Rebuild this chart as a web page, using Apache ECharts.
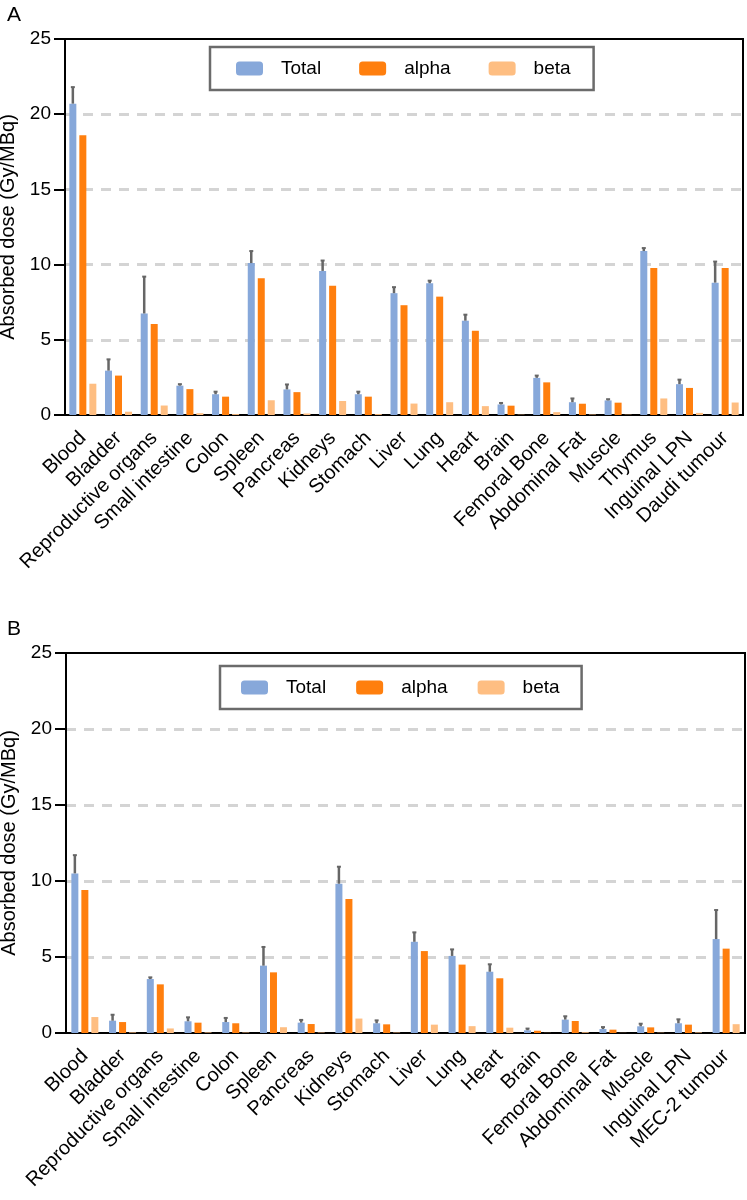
<!DOCTYPE html>
<html><head><meta charset="utf-8">
<script src="https://cdn.jsdelivr.net/npm/echarts@6/dist/echarts.min.js"></script>
<style>html,body{margin:0;padding:0;background:#fff}#c{width:747px;height:1200px}</style>
</head><body><div id="c"></div>
<script>
const catsA = ['Blood','Bladder','Reproductive organs','Small intestine','Colon','Spleen','Pancreas','Kidneys','Stomach','Liver','Lung','Heart','Brain','Femoral Bone','Abdominal Fat','Muscle','Thymus','Inguinal LPN','Daudi tumour'];
const totalA = [20.7, 2.95, 6.75, 1.95, 1.38, 10.1, 1.7, 9.58, 1.38, 8.1, 8.76, 6.27, 0.7, 2.47, 0.85, 0.97, 10.9, 2.05, 8.8];
const errTopA = [21.8, 3.7, 9.2, 2.05, 1.55, 10.9, 2.03, 10.27, 1.55, 8.5, 8.93, 6.67, 0.8, 2.62, 1.1, 1.05, 11.1, 2.35, 10.2];
const alphaA = [18.6, 2.62, 6.05, 1.72, 1.22, 9.1, 1.52, 8.6, 1.22, 7.3, 7.87, 5.6, 0.62, 2.17, 0.75, 0.82, 9.78, 1.8, 9.78];
const betaA = [2.08, 0.22, 0.63, 0.12, 0.06, 0.98, 0.1, 0.93, 0.06, 0.76, 0.85, 0.59, 0.02, 0.19, 0.03, 0.02, 1.1, 0.14, 0.83];

const catsB = ['Blood','Bladder','Reproductive organs','Small intestine','Colon','Spleen','Pancreas','Kidneys','Stomach','Liver','Lung','Heart','Brain','Femoral Bone','Abdominal Fat','Muscle','Inguinal LPN','MEC-2 tumour'];
const totalB = [10.5, 0.81, 3.55, 0.77, 0.72, 4.43, 0.68, 9.82, 0.64, 6.0, 5.07, 4.03, 0.18, 0.88, 0.26, 0.44, 0.64, 6.18];
const errTopB = [11.7, 1.2, 3.66, 1.03, 0.99, 5.66, 0.86, 10.94, 0.83, 6.62, 5.5, 4.52, 0.29, 1.1, 0.39, 0.61, 0.9, 8.09];
const alphaB = [9.4, 0.72, 3.2, 0.68, 0.64, 3.99, 0.59, 8.82, 0.57, 5.39, 4.5, 3.6, 0.15, 0.79, 0.22, 0.37, 0.55, 5.55];
const betaB = [1.05, 0.04, 0.3, 0.04, 0.03, 0.38, 0.03, 0.95, 0.03, 0.55, 0.45, 0.35, 0.01, 0.05, 0.01, 0.02, 0.04, 0.58];

const yTicks = [0, 5, 10, 15, 20, 25];
const seriesNames = ['Total', 'alpha', 'beta'];
const colors = ['#87a8da', '#ff7f0e', '#febe82'];

const FONT = 'Liberation Sans, Arial, sans-serif';
const BAR_W = 7, BAR_GAP_PX = 3;

function xAxisFor(cats, gi) {
  return {
    type: 'category', gridIndex: gi, data: cats,
    axisLine: {lineStyle: {color: '#000', width: 2}},
    axisTick: {alignWithLabel: true, length: 10, lineStyle: {color: '#000', width: 2}},
    axisLabel: {rotate: 45, margin: 20, fontSize: 20, color: '#000', fontFamily: FONT, interval: 0}
  };
}
function yAxisFor(gi) {
  return {
    type: 'value', gridIndex: gi, min: yTicks[0], max: yTicks[yTicks.length - 1], interval: 5,
    name: 'Absorbed dose (Gy/MBq)', nameLocation: 'middle', nameGap: 46,
    nameTextStyle: {fontSize: 20, color: '#000', fontFamily: FONT},
    axisLine: {show: true, lineStyle: {color: '#000', width: 2}},
    axisTick: {show: true, length: 11, lineStyle: {color: '#000', width: 2}},
    axisLabel: {fontSize: 19, color: '#000', fontFamily: FONT, margin: 14},
    splitLine: {show: true, showMinLine: false, showMaxLine: false, lineStyle: {color: '#d4d4d4', width: 3, type: [10, 8]}}
  };
}
function barSeries(name, data, gi, ci) {
  return {
    name: name, type: 'bar', xAxisIndex: gi, yAxisIndex: gi, data: data,
    barWidth: BAR_W, barGap: (BAR_GAP_PX / BAR_W * 100) + '%',
    itemStyle: {color: colors[ci]}, z: 2
  };
}
function errSeries(total, errTop, gi) {
  return {
    type: 'custom', xAxisIndex: gi, yAxisIndex: gi, z: 3,
    encode: {x: 0, y: [1, 2]},
    data: total.map((v, i) => [i, v, errTop[i]]),
    renderItem: function (params, api) {
      const base = api.coord([api.value(0), api.value(1)]);
      const top = api.coord([api.value(0), api.value(2)]);
      const x = base[0] - (BAR_W + BAR_GAP_PX);
      return {
        type: 'group', children: [
          {type: 'line', shape: {x1: x, y1: base[1], x2: x, y2: top[1]}, style: {stroke: '#666', lineWidth: 2.5}},
          {type: 'line', shape: {x1: x - 2, y1: top[1], x2: x + 2, y2: top[1]}, style: {stroke: '#666', lineWidth: 2}}
        ]
      };
    }
  };
}
function legendFor(left, top, pad, gap, alphaExtra) {
  const ts = {fontSize: 19, color: '#000', fontFamily: FONT, padding: [0, 0, 0, 13]};
  return {
    data: [
      {name: 'Total'},
      {name: 'alpha', textStyle: Object.assign({}, ts, {padding: [0, alphaExtra, 0, 13]})},
      {name: 'beta'}
    ],
    left: left, top: top, orient: 'horizontal',
    padding: pad, itemWidth: 27, itemHeight: 14, itemGap: gap,
    borderColor: '#6b6b6b', borderWidth: 2.5,
    textStyle: ts
  };
}

const chart = echarts.init(document.getElementById('c'), null, {renderer: 'canvas'});
chart.setOption({
  animation: false,
  backgroundColor: '#fff',
  title: [
    {text: 'A', left: 2, top: 0, textStyle: {fontSize: 21, fontWeight: 'normal', color: '#000', fontFamily: FONT}},
    {text: 'B', left: 2, top: 614, textStyle: {fontSize: 21, fontWeight: 'normal', color: '#000', fontFamily: FONT}}
  ],
  legend: [
    legendFor(210, 47, [12, 23, 12, 26], 38, 9),
    legendFor(220, 666, [12, 22, 12, 21], 30, 7)
  ],
  grid: [
    {left: 65, top: 39, right: 4, height: 376, show: true, borderColor: '#000', borderWidth: 2, backgroundColor: 'transparent', containLabel: false, outerBoundsMode: 'none'},
    {left: 66, top: 653, right: 2, height: 380, show: true, borderColor: '#000', borderWidth: 2, backgroundColor: 'transparent', containLabel: false, outerBoundsMode: 'none'}
  ],
  xAxis: [xAxisFor(catsA, 0), xAxisFor(catsB, 1)],
  yAxis: [yAxisFor(0), yAxisFor(1)],
  series: [
    barSeries('Total', totalA, 0, 0),
    barSeries('alpha', alphaA, 0, 1),
    barSeries('beta', betaA, 0, 2),
    errSeries(totalA, errTopA, 0),
    barSeries('Total', totalB, 1, 0),
    barSeries('alpha', alphaB, 1, 1),
    barSeries('beta', betaB, 1, 2),
    errSeries(totalB, errTopB, 1)
  ]
});
</script></body></html>
